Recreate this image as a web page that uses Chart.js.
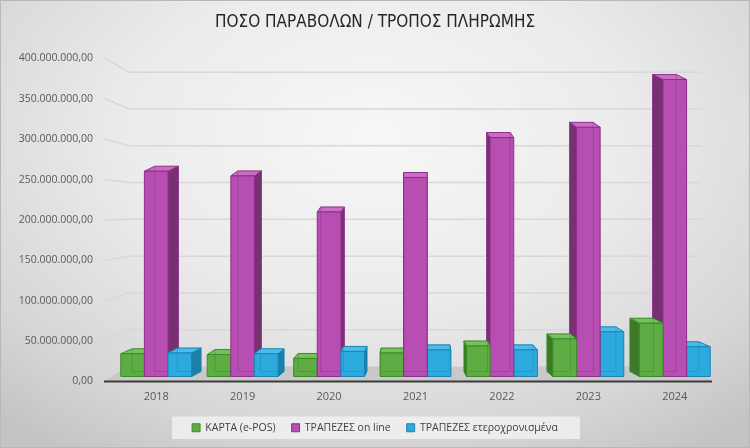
<!DOCTYPE html>
<html>
<head>
<meta charset="utf-8">
<script src="https://cdn.jsdelivr.net/npm/chart.js@4.4.1/dist/chart.umd.min.js"></script>
<style>
  html, body { margin: 0; padding: 0; }
  #wrap {
    width: 748px; height: 446px;
    border: 1px solid #b8b8b8;
    background: radial-gradient(ellipse 75% 85% at 50% 30%, #f7f7f7 0%, #ebebeb 45%, #d6d6d6 80%, #c4c4c4 100%);
  }
</style>
</head>
<body>
<div id="wrap"><canvas id="myChart" width="748" height="446"></canvas></div>
<script>
// values
const years = ['2018', '2019', '2020', '2021', '2022', '2023', '2024'];
const kartaEpos = [29000000, 28000000, 23000000, 30000000, 39000000, 48000000, 68000000];
const trapezesOnline = [262000000, 256000000, 210000000, 254000000, 305000000, 318000000, 379000000];
const trapezesEterox = [30000000, 29000000, 32000000, 34000000, 34000000, 57000000, 38000000];
const seriesNames = ['ΚΑΡΤΑ (e-POS)', 'ΤΡΑΠΕΖΕΣ on line', 'ΤΡΑΠΕΖΕΣ ετεροχρονισμένα'];
const yMax = 400000000;
const yStep = 50000000;

// front / top / side / edge colours per series
const looks = [
    { front: '#5dad44', top: '#74c35a', side: '#3c7a2a', edge: '#3e8a2b' },
    { front: '#b64fb1', top: '#cb6cc5', side: '#773070', edge: '#8d2f88' },
    { front: '#2caadd', top: '#4dbbe7', side: '#1d7ea8', edge: '#1a84b6' }
];

function fmt(v) {
    return Math.round(v).toString().replace(/\B(?=(\d{3})+(?!\d))/g, '.') + ',00';
}

function poly(ctx, pts, fill, stroke) {
    ctx.beginPath();
    ctx.moveTo(pts[0][0], pts[0][1]);
    for (let i = 1; i < pts.length; i++) ctx.lineTo(pts[i][0], pts[i][1]);
    ctx.closePath();
    ctx.fillStyle = fill;
    ctx.fill();
    ctx.lineWidth = 1;
    ctx.strokeStyle = stroke;
    ctx.stroke();
}

const box3d = {
    id: 'box3d',
    beforeDraw(chart) {
        // light panel behind the legend
        const lg = chart.legend;
        if (!lg || !lg.legendHitBoxes.length) return;
        const hb = lg.legendHitBoxes;
        const l = Math.min(...hb.map(h => h.left)) - 20;
        const r = Math.max(...hb.map(h => h.left + h.width)) + 22;
        const t = hb[0].top - 6;
        const ctx = chart.ctx;
        ctx.save();
        ctx.fillStyle = 'rgba(242,242,242,0.8)';
        ctx.fillRect(l, t, r - l, hb[0].height + 12);
        ctx.restore();
    },
    beforeDatasetsDraw(chart) {
        const ctx = chart.ctx;
        const a = chart.chartArea;
        const ys = chart.scales.y;
        const vpy = a.top + (a.bottom - a.top) * 0.48;
        const back = y => y + 0.089 * (vpy - y);
        ctx.save();
        // wall grid lines
        ctx.strokeStyle = '#d8d8d8';
        ctx.lineWidth = 1.5;
        ys.ticks.forEach(tk => {
            if (tk.value === 0) return;
            const yf = ys.getPixelForValue(tk.value);
            const yb = back(yf);
            ctx.beginPath();
            ctx.moveTo(a.left - 8, yf);
            ctx.lineTo(a.left + 16, yb);
            ctx.lineTo(a.right - 17, yb);
            ctx.stroke();
        });
        // floor
        const y0 = ys.getPixelForValue(0);
        const yb0 = back(y0);
        poly(ctx, [[a.left - 9, y0], [a.right - 6, y0], [a.right - 20, yb0], [a.left + 14, yb0]], '#c9c9c9', 'rgba(0,0,0,0)');
        ctx.strokeStyle = '#3c3c3c';
        ctx.lineWidth = 2;
        ctx.beginPath();
        ctx.moveTo(a.left - 9, y0);
        ctx.lineTo(a.right - 6, y0);
        ctx.stroke();
        ctx.restore();
    },
    afterDatasetsDraw(chart) {
        const ctx = chart.ctx;
        const a = chart.chartArea;
        const base = chart.scales.y.getPixelForValue(0);
        const cx = (a.left + a.right) / 2;
        const list = [];
        chart.data.datasets.forEach((ds, di) => {
            chart.getDatasetMeta(di).data.forEach(el => list.push({ el: el, lk: looks[di] }));
        });
        // outer bars first, so the ones near the middle cover their side faces
        list.sort((p, q) => Math.abs(q.el.x - cx) - Math.abs(p.el.x - cx));
        ctx.save();
        list.forEach(({ el, lk }) => {
            const w = el.width;
            const l = el.x - w / 2;
            const r = el.x + w / 2;
            const y0 = base - 5;
            const t = y0 - (base - el.y) * 0.97;
            const dx = (cx - el.x) * 0.04;
            const dy = -5;
            if (dx > 0) {
                poly(ctx, [[r, t], [r + dx, t + dy], [r + dx, y0 + dy], [r, y0]], lk.side, lk.edge);
            } else {
                poly(ctx, [[l, t], [l + dx, t + dy], [l + dx, y0 + dy], [l, y0]], lk.side, lk.edge);
            }
            poly(ctx, [[l, t], [r, t], [r + dx, t + dy], [l + dx, t + dy]], lk.top, lk.edge);
            poly(ctx, [[l, t], [r, t], [r, y0], [l, y0]], lk.front, lk.edge);
            // back edges seen through the glassy front
            const bx = dx > 0 ? l + dx : r + dx;
            ctx.globalAlpha = 0.45;
            ctx.strokeStyle = lk.edge;
            ctx.beginPath();
            ctx.moveTo(bx, t + dy);
            ctx.lineTo(bx, y0 + dy);
            ctx.lineTo(bx + (dx > 0 ? w : -w), y0 + dy);
            ctx.stroke();
            ctx.globalAlpha = 1;
        });
        ctx.restore();
    }
};

const ctx = document.getElementById('myChart').getContext('2d');
const myChart = new Chart(ctx, {
    type: 'bar',
    data: {
        labels: years,
        datasets: [
            { label: seriesNames[0], data: kartaEpos, backgroundColor: 'rgba(0,0,0,0)', borderWidth: 0 },
            { label: seriesNames[1], data: trapezesOnline, backgroundColor: 'rgba(0,0,0,0)', borderWidth: 0 },
            { label: seriesNames[2], data: trapezesEterox, backgroundColor: 'rgba(0,0,0,0)', borderWidth: 0 }
        ]
    },
    options: {
        responsive: false,
        animation: false,
        layout: { padding: { left: 0, right: 0, top: 0, bottom: 4 } },
        categoryPercentage: 0.82,
        barPercentage: 1.0,
        plugins: {
            title: {
                display: true,
                text: 'ΠΟΣΟ ΠΑΡΑΒΟΛΩΝ / ΤΡΟΠΟΣ ΠΛΗΡΩΜΗΣ',
                color: '#262626',
                font: { family: 'DejaVu Sans Condensed', size: 17, weight: 'normal' },
                padding: { top: 11, bottom: 26 }
            },
            legend: {
                position: 'bottom',
                labels: {
                    boxWidth: 8,
                    boxHeight: 8,
                    padding: 16,
                    color: '#404040',
                    font: { family: 'Open Sans', size: 10.5 },
                    generateLabels(chart) {
                        return chart.data.datasets.map((ds, i) => ({
                            text: ds.label,
                            fillStyle: looks[i].front,
                            strokeStyle: looks[i].edge,
                            lineWidth: 1,
                            hidden: false,
                            datasetIndex: i,
                            fontColor: '#404040'
                        }));
                    }
                }
            },
            tooltip: { enabled: false }
        },
        scales: {
            x: {
                grid: { display: false },
                border: { display: false },
                ticks: { color: '#595959', font: { family: 'Open Sans', size: 11 }, padding: 1 },
                afterFit(s) { s.height = 25; }
            },
            y: {
                min: 0,
                max: yMax,
                grid: { display: false, drawTicks: false },
                border: { display: false },
                ticks: {
                    stepSize: yStep,
                    color: '#595959',
                    font: { family: 'Open Sans', size: 10.5 },
                    padding: 20,
                    callback: v => fmt(v)
                },
                afterFit(s) { s.width = 112; }
            },
            // empty axis on the right, only to keep room there
            yRight: {
                position: 'right',
                display: true,
                grid: { display: false, drawTicks: false },
                border: { display: false },
                ticks: { display: false },
                afterFit(s) { s.width = 31; }
            }
        }
    },
    plugins: [box3d]
});
</script>
</body>
</html>
